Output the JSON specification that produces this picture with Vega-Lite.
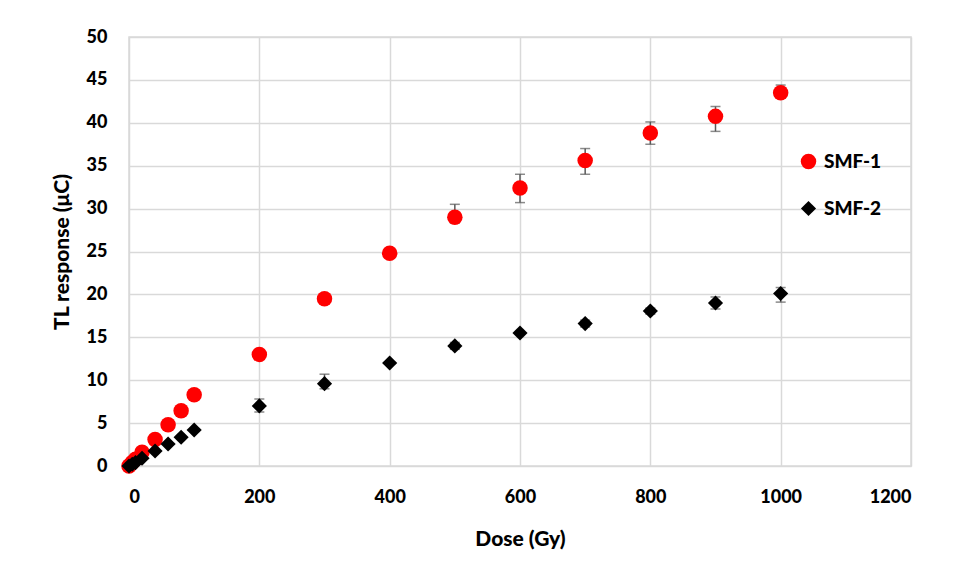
{
  "$schema": "https://vega.github.io/schema/vega-lite/v6.json",
  "autosize": {"type": "none"},
  "width": 782,
  "height": 429,
  "padding": {"left": 129, "top": 37, "right": 53, "bottom": 114},
  "background": "#ffffff",
  "config": {
    "view": {"stroke": "#d9d9d9", "strokeWidth": 1.5},
    "font": "Lato"
  },
  "data": {
    "values": [
      {"dose": 0, "series": "SMF-1", "tl": 0.0},
      {"dose": 5, "series": "SMF-1", "tl": 0.4},
      {"dose": 10, "series": "SMF-1", "tl": 0.8},
      {"dose": 20, "series": "SMF-1", "tl": 1.6},
      {"dose": 40, "series": "SMF-1", "tl": 3.1},
      {"dose": 60, "series": "SMF-1", "tl": 4.8},
      {"dose": 80, "series": "SMF-1", "tl": 6.45},
      {"dose": 100, "series": "SMF-1", "tl": 8.3},
      {"dose": 200, "series": "SMF-1", "tl": 13.0},
      {"dose": 300, "series": "SMF-1", "tl": 19.5},
      {"dose": 400, "series": "SMF-1", "tl": 24.8},
      {"dose": 500, "series": "SMF-1", "tl": 29.0, "lo": 28.3, "hi": 30.5},
      {"dose": 600, "series": "SMF-1", "tl": 32.4, "lo": 30.7, "hi": 34.0},
      {"dose": 700, "series": "SMF-1", "tl": 35.6, "lo": 34.0, "hi": 37.0},
      {"dose": 800, "series": "SMF-1", "tl": 38.8, "lo": 37.5, "hi": 40.1},
      {"dose": 900, "series": "SMF-1", "tl": 40.75, "lo": 39.0, "hi": 41.9},
      {"dose": 1000, "series": "SMF-1", "tl": 43.5, "lo": 42.9, "hi": 44.4},
      {"dose": 0, "series": "SMF-2", "tl": 0.0},
      {"dose": 5, "series": "SMF-2", "tl": 0.2},
      {"dose": 10, "series": "SMF-2", "tl": 0.4},
      {"dose": 20, "series": "SMF-2", "tl": 0.9},
      {"dose": 40, "series": "SMF-2", "tl": 1.75},
      {"dose": 60, "series": "SMF-2", "tl": 2.56},
      {"dose": 80, "series": "SMF-2", "tl": 3.35},
      {"dose": 100, "series": "SMF-2", "tl": 4.2},
      {"dose": 200, "series": "SMF-2", "tl": 7.0, "lo": 6.3, "hi": 7.8},
      {"dose": 300, "series": "SMF-2", "tl": 9.6, "lo": 9.0, "hi": 10.7},
      {"dose": 400, "series": "SMF-2", "tl": 12.0},
      {"dose": 500, "series": "SMF-2", "tl": 14.0, "lo": 13.6, "hi": 14.4},
      {"dose": 600, "series": "SMF-2", "tl": 15.5},
      {"dose": 700, "series": "SMF-2", "tl": 16.6, "lo": 16.2, "hi": 17.0},
      {"dose": 800, "series": "SMF-2", "tl": 18.07, "lo": 17.7, "hi": 18.4},
      {"dose": 900, "series": "SMF-2", "tl": 19.0, "lo": 18.3, "hi": 19.7},
      {"dose": 1000, "series": "SMF-2", "tl": 20.1, "lo": 19.1, "hi": 20.8}
    ]
  },
  "encoding": {
    "x": {
      "field": "dose", "type": "quantitative",
      "scale": {"domain": [0, 1200], "nice": false},
      "axis": {
        "values": [0, 200, 400, 600, 800, 1000, 1200], "format": "d",
        "title": "Dose (Gy)", "titleFontSize": 21, "titleFontWeight": 900, "titleColor": "#000",
        "titlePadding": 22,
        "labelFontSize": 18, "labelFontWeight": 900, "labelColor": "#000", "labelPadding": 22,
        "domain": false, "ticks": false, "grid": true, "gridColor": "#d9d9d9", "gridWidth": 1.5
      }
    }
  },
  "layer": [
    {
      "transform": [{"filter": "isValid(datum.lo)"}],
      "mark": {"type": "rule", "color": "#595959", "strokeWidth": 1.5},
      "encoding": {
        "y": {"field": "lo", "type": "quantitative"},
        "y2": {"field": "hi"}
      }
    },
    {
      "transform": [{"filter": "isValid(datum.lo)"}],
      "mark": {"type": "tick", "orient": "horizontal", "color": "#595959", "size": 10, "thickness": 1.5},
      "encoding": {"y": {"field": "lo", "type": "quantitative"}}
    },
    {
      "transform": [{"filter": "isValid(datum.lo)"}],
      "mark": {"type": "tick", "orient": "horizontal", "color": "#595959", "size": 10, "thickness": 1.5},
      "encoding": {"y": {"field": "hi", "type": "quantitative"}}
    },
    {
      "mark": {"type": "point", "filled": true, "opacity": 1},
      "encoding": {
        "y": {
          "field": "tl", "type": "quantitative",
          "scale": {"domain": [0, 50], "nice": false},
          "axis": {
            "values": [0, 5, 10, 15, 20, 25, 30, 35, 40, 45, 50],
            "title": "TL response (μC)", "titleFontSize": 21, "titleFontWeight": 900, "titleColor": "#000",
            "titlePadding": 14,
            "labelFontSize": 18, "labelFontWeight": 900, "labelColor": "#000", "labelPadding": 22,
            "domain": false, "ticks": false, "grid": true, "gridColor": "#d9d9d9", "gridWidth": 1.5
          }
        },
        "color": {
          "field": "series", "type": "nominal",
          "scale": {"domain": ["SMF-1", "SMF-2"], "range": ["#ff0000", "#000000"]},
          "legend": {
            "orient": "none", "legendX": 670, "legendY": 115, "title": null,
            "labelFontSize": 19, "labelFontWeight": 900, "labelColor": "#000",
            "rowPadding": 27, "symbolSize": 230, "labelOffset": 6
          }
        },
        "shape": {
          "field": "series", "type": "nominal",
          "scale": {"domain": ["SMF-1", "SMF-2"], "range": ["circle", "diamond"]}
        },
        "size": {
          "field": "series", "type": "nominal",
          "scale": {"domain": ["SMF-1", "SMF-2"], "range": [240, 230]},
          "legend": null
        },
        "order": {"field": "series", "type": "nominal"}
      }
    }
  ]
}
